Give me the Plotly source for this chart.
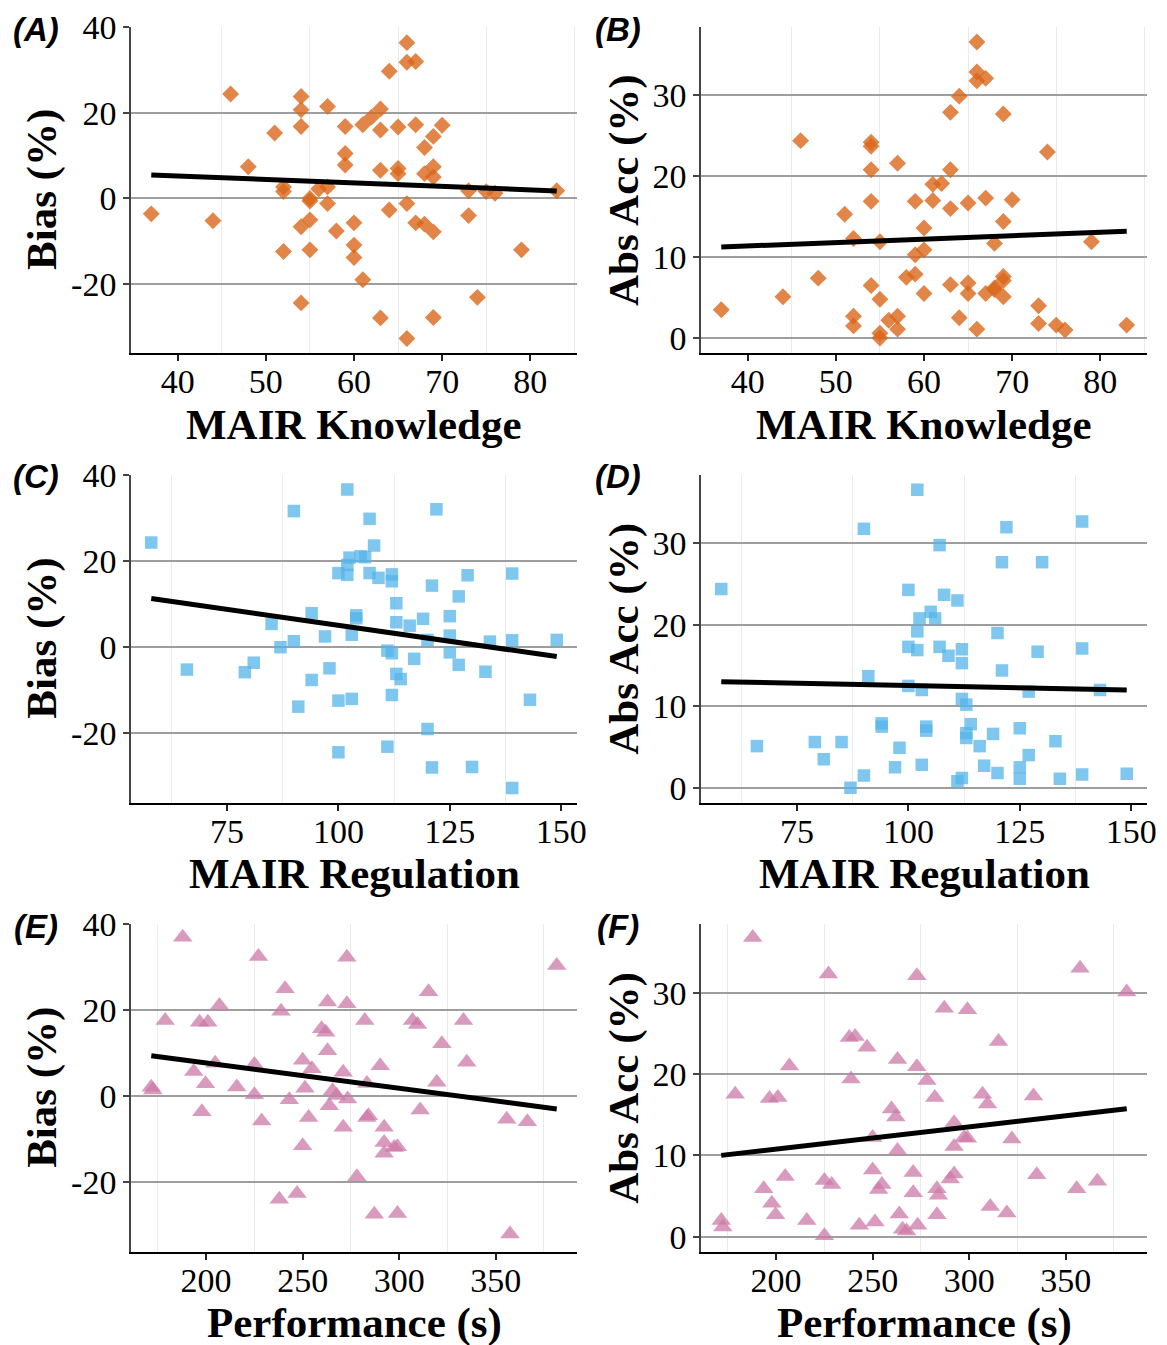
import numpy as np
import plotly.graph_objects as go

# ---------------- data ----------------
know_x = [37, 44, 46, 48, 51, 52, 52, 52, 54, 54, 54, 54, 54, 55, 55, 55, 55, 56, 57, 57, 57,
          58, 59, 59, 59, 60, 60, 60, 61, 61, 62, 63, 63, 63, 63, 64, 64, 65, 65, 65, 66, 66,
          66, 66, 67, 67, 67, 68, 68, 68, 69, 69, 69, 69, 69, 70, 73, 73, 74, 75, 76, 79, 83]
know_bias = [-3.6, -5.2, 24.4, 7.4, 15.3, 2.7, 1.6, -12.4, 23.8, 20.7, 16.8, -6.6, -24.4, -0.6,
             0.0, -5.0, -12.0, 2.2, 2.7, 21.5, -1.2, -7.6, 16.8, 10.5, 7.8, -5.7, -10.9, -13.8,
             17.2, -19.0, 19.0, 20.9, 16.0, 6.6, -27.9, 29.7, -2.7, 16.7, 7.0, 5.8, 36.4, 31.8,
             -1.2, -32.7, 32.0, 17.2, -5.7, 11.9, 5.8, -6.0, 14.5, 7.4, 5.0, -7.8, -27.8, 17.1,
             1.8, -4.0, -23.1, 1.6, 1.2, -12.0, 1.8]
know_abs = [3.5, 5.1, 24.4, 7.4, 15.3, 2.7, 1.5, 12.3, 23.7, 20.8, 16.9, 6.5, 24.2, 0.6,
            0.0, 4.8, 11.9, 2.2, 2.7, 21.6, 1.1, 7.5, 16.9, 10.3, 7.9, 5.5, 10.9, 13.6,
            17.0, 19.0, 19.1, 20.8, 16.0, 6.6, 27.9, 29.9, 2.5, 16.7, 6.8, 5.5, 36.6, 31.8,
            1.1, 32.9, 32.1, 17.3, 5.5, 11.7, 6.0, 6.2, 14.4, 7.6, 5.1, 7.1, 27.7, 17.1,
            1.8, 4.0, 23.0, 1.6, 1.0, 11.9, 1.6]

reg_x = [58, 66, 79, 81, 85, 87, 90, 90, 91, 94, 94, 97, 98, 100, 100, 100, 102, 102.5, 102,
         102, 103, 103, 104, 104, 105, 106, 107, 107, 108, 109, 111, 111, 112, 112, 112, 112,
         113, 113, 113, 114, 116, 117, 119, 120, 120, 121, 121, 122, 125, 125, 125, 127, 127,
         129, 130, 133, 134, 139, 139, 139, 143, 149]
reg_bias = [24.3, -5.2, -5.8, -3.6, 5.4, 0.0, 31.6, 1.4, -13.8, 7.9, -7.6, 2.5, -4.9, 17.2,
            -12.4, -24.4, 36.6, 20.8, 19.1, 16.8, -12.0, 2.9, 7.4, 6.7, 21.1, 20.9, 29.8, 17.2,
            23.6, 16.1, -0.8, -23.1, 16.9, 15.3, -1.4, -11.1, 10.2, 5.8, -6.2, -7.4, 5.0, -2.7,
            6.6, 1.7, -19.0, 14.3, -27.9, 32.0, 7.2, 2.7, -1.2, 11.8, -4.1, 16.7, -27.8, -5.7,
            1.3, 17.1, 1.6, -32.7, -12.2, 1.7]
reg_abs = [24.4, 5.1, 5.6, 3.5, 5.6, 0.0, 31.8, 1.5, 13.7, 7.9, 7.5, 2.5, 4.9, 17.3,
           12.5, 24.3, 36.6, 20.8, 19.2, 16.9, 12.0, 2.8, 7.5, 7.0, 21.6, 20.8, 29.8, 17.3,
           23.7, 16.2, 0.8, 23.0, 17.0, 15.3, 1.2, 10.9, 10.2, 6.1, 6.7, 7.8, 5.1, 2.7,
           6.6, 1.8, 19.0, 14.4, 27.7, 32.0, 7.3, 2.5, 1.1, 11.8, 4.0, 16.7, 27.7, 5.7,
           1.1, 17.1, 1.6, 32.7, 12.0, 1.7]

perf_x = [171.6, 172.4, 178.8, 187.9, 193.6, 196.6, 197.8, 199.7, 200.9, 204.7, 206.9, 215.9,
          225.0, 225.0, 227.1, 228.8, 237.9, 238.8, 240.9, 243.1, 247.1, 250.0, 250.0, 251.2,
          253.1, 254.8, 259.8, 262.0, 262.9, 262.9, 263.8, 265.5, 267.6, 271.0, 271.0, 272.9,
          272.9, 273.3, 278.1, 282.2, 283.3, 283.3, 284.1, 287.1, 290.2, 292.2, 292.2, 292.2,
          297.4, 299.1, 299.1, 306.9, 309.5, 310.9, 315.2, 319.5, 322.1, 333.3, 335.0, 355.7,
          357.4, 366.4, 381.6]
perf_bias = [2.1, 1.5, 17.6, 37.0, 5.8, 17.2, -3.6, 2.9, 17.2, 7.7, 21.1, 2.2,
             7.4, 0.4, 32.5, -5.7, -23.9, 19.8, 25.0, -0.8, -22.6, 8.4, -11.5, 1.9,
             -4.9, 6.4, 15.7, 14.9, 21.9, 10.6, -2.2, 1.3, 0.2, 5.6, -7.2, 32.3,
             21.5, -0.6, -18.7, 17.6, 3.0, -4.9, -4.5, -27.4, 7.1, -7.2, -10.7, -13.2,
             -11.9, -11.7, -27.2, 17.6, 16.7, -3.2, 24.3, 3.3, 12.2, 17.6, 7.9, -5.3,
             -32.0, -5.9, 30.4]
perf_abs = [2.0, 1.2, 17.5, 36.8, 5.9, 17.0, 4.1, 2.7, 17.1, 7.4, 21.0, 2.0,
            6.9, 0.1, 32.3, 6.4, 24.5, 19.4, 24.6, 1.4, 23.3, 8.2, 12.2, 1.8,
            5.8, 6.4, 15.7, 14.7, 21.8, 10.6, 2.8, 0.9, 0.7, 5.4, 7.9, 32.1,
            20.9, 1.4, 19.2, 17.1, 2.7, 5.9, 5.1, 28.1, 7.1, 7.7, 11.1, 14.0,
            12.2, 12.1, 27.9, 17.5, 16.3, 3.7, 24.0, 2.9, 12.0, 17.3, 7.6, 5.9,
            33.0, 6.8, 30.1]

panel_labels = ["(A)", "(B)", "(C)", "(D)", "(E)", "(F)"]
x_titles = ["MAIR Knowledge", "MAIR Regulation", "Performance (s)"]
y_titles = ["Bias (%)", "Abs Acc (%)"]

bias_ticks = [-20, 0, 20, 40]
bias_ticktext = ["-20", "0", "20", "40"]
abs_ticks = [0, 10, 20, 30]
abs_ticktext = ["0", "10", "20", "30"]

know_ticks = [40, 50, 60, 70, 80]
know_minor = [45, 55, 65, 75, 85]
reg_ticks = [75, 100, 125, 150]
reg_minor = [62.5, 87.5, 112.5, 137.5]
perf_ticks = [200, 250, 300, 350]
perf_minor = [175, 225, 275, 325, 375]

# ---------------- layout geometry ----------------
W, H = 1167, 1345
cols_px = [(131, 577), (701, 1147)]
rows_px = [(27, 353), (474.7, 802.7), (924, 1251.7)]

orange = "#D9661A"
blue = "#56B4E9"
pink = "#CC79A7"

rows = [
    dict(x=know_x, b=know_bias, a=know_abs, ticks=know_ticks, minor=know_minor,
         rng=[34.7, 85.3], sym="diamond", size=13, color=orange, op=0.8),
    dict(x=reg_x, b=reg_bias, a=reg_abs, ticks=reg_ticks, minor=reg_minor,
         rng=[53.45, 153.55], sym="square", size=12.5, color=blue, op=0.75),
    dict(x=perf_x, b=perf_bias, a=perf_abs, ticks=perf_ticks, minor=perf_minor,
         rng=[161.1, 392.1], sym="triangle-up", size=17, color=pink, op=0.75),
]

serif = "Liberation Serif"
fig = go.Figure()
annotations = []
k = 0
for r, spec in enumerate(rows):
    for c in range(2):
        k += 1
        yvals = spec["b"] if c == 0 else spec["a"]
        xa = "x" if k == 1 else f"x{k}"
        ya = "y" if k == 1 else f"y{k}"
        fig.add_trace(go.Scatter(
            x=spec["x"], y=yvals, mode="markers", xaxis=xa, yaxis=ya,
            marker=dict(symbol=spec["sym"], size=spec["size"], color=spec["color"],
                        opacity=spec["op"], line=dict(width=0)),
            showlegend=False, hoverinfo="skip"))
        coef = np.polyfit(np.array(spec["x"], float), np.array(yvals, float), 1)
        xs = np.array([min(spec["x"]), max(spec["x"])], float)
        fig.add_trace(go.Scatter(
            x=xs, y=np.polyval(coef, xs), mode="lines", xaxis=xa, yaxis=ya,
            line=dict(color="black", width=5), showlegend=False, hoverinfo="skip"))

        x0, x1 = cols_px[c]
        t0, t1 = rows_px[r]
        xkey = "xaxis" if k == 1 else f"xaxis{k}"
        ykey = "yaxis" if k == 1 else f"yaxis{k}"
        fig.layout[xkey] = dict(
            domain=[x0 / W, x1 / W], anchor=ya, range=spec["rng"], automargin=False,
            tickmode="array", tickvals=spec["ticks"], ticktext=[str(v) for v in spec["ticks"]],
            showgrid=False, zeroline=False,
            minor=dict(tickmode="array", tickvals=spec["minor"], showgrid=True,
                       gridcolor="#EBEBEB", gridwidth=1, ticks=""),
            showline=True, linecolor="black", linewidth=2,
            ticks="outside", ticklen=6, tickwidth=2, tickcolor="#222222",
            ticklabelstandoff=-9,
            tickfont=dict(family=serif, size=34, color="black"),
            fixedrange=True)
        if c == 0:
            yt, ytt, yr = bias_ticks, bias_ticktext, [-36.1, 40.05]
        else:
            yt, ytt, yr = abs_ticks, abs_ticktext, [-1.85, 38.45]
        fig.layout[ykey] = dict(
            domain=[1 - t1 / H, 1 - t0 / H], anchor=xa, range=yr, automargin=False,
            tickmode="array", tickvals=yt, ticktext=ytt,
            showgrid=True, gridcolor="#9E9E9E", gridwidth=1.6, zeroline=False,
            showline=True, linecolor="#444444", linewidth=1.5,
            ticks="outside", ticklen=6, tickwidth=1.5, tickcolor="#444444",
            tickfont=dict(family=serif, size=34, color="black"),
            fixedrange=True)

        # panel label
        lx = 36 if c == 0 else 618
        annotations.append(dict(
            text=panel_labels[k - 1], x=lx / W, y=1 - (t0 + 2) / H, xref="paper", yref="paper",
            xanchor="center", yanchor="middle", showarrow=False,
            font=dict(family="Liberation Sans", size=33, color="black",
                      weight="bold", style="italic")))
        # y title
        tx = 42 if c == 0 else 624
        annotations.append(dict(
            text=y_titles[c], x=tx / W, y=1 - ((t0 + t1) / 2) / H, xref="paper", yref="paper",
            xanchor="center", yanchor="middle", showarrow=False, textangle=-90,
            font=dict(family=serif, size=43, color="black", weight="bold")))
        # x title
        annotations.append(dict(
            text=x_titles[r], x=((x0 + x1) / 2) / W, y=1 - (t1 + 71) / H,
            xref="paper", yref="paper", xanchor="center", yanchor="middle", showarrow=False,
            font=dict(family=serif, size=43, color="black", weight="bold")))

fig.update_layout(
    width=W, height=H, margin=dict(l=0, r=0, t=0, b=0, autoexpand=False),
    paper_bgcolor="white", plot_bgcolor="white",
    annotations=annotations, showlegend=False)

fig.write_html(
    "out.html",
    config={"displayModeBar": False},
    post_script="document.body.style.margin='0px';document.body.style.overflow='hidden';")
